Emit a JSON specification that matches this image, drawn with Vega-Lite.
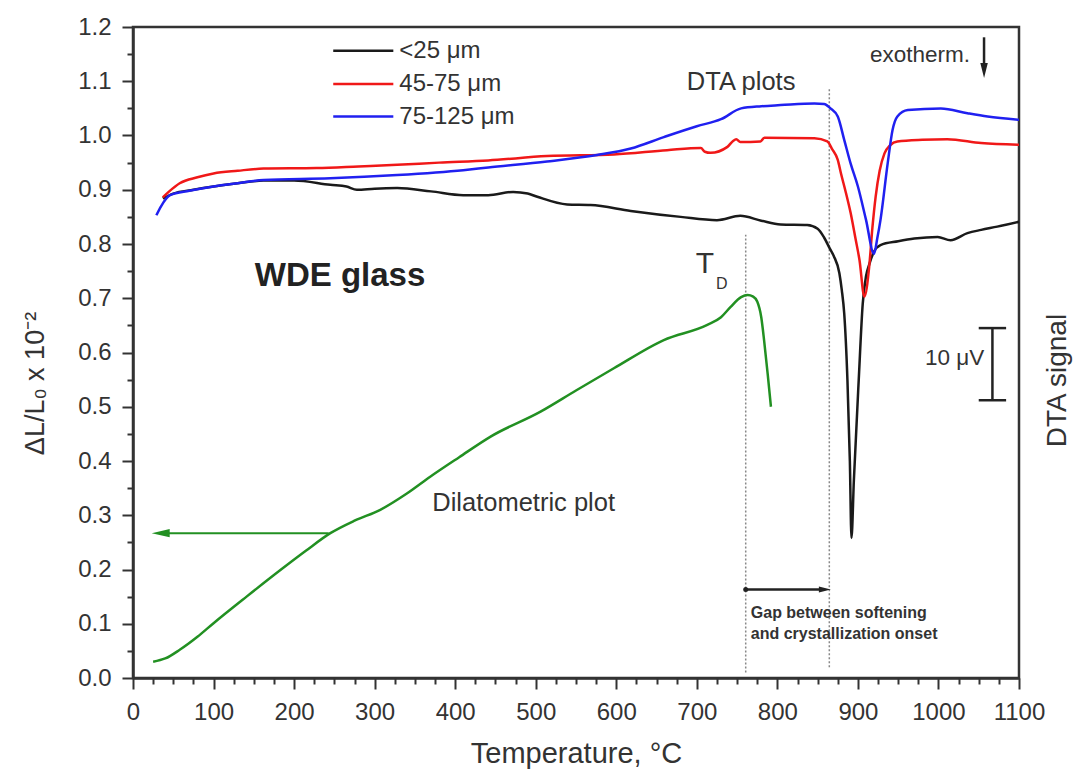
{
  "$schema": "https://vega.github.io/schema/vega-lite/v6.json",
  "width": 886,
  "height": 651,
  "autosize": {"type": "none"},
  "padding": {"left": 133, "top": 27, "right": 58, "bottom": 91},
  "background": "white",
  "config": {
    "font": "Liberation Sans",
    "view": {"stroke": "#333", "strokeWidth": 2.5},
    "axis": {"grid": false, "domainColor": "#333", "domainWidth": 2.5, "tickColor": "#333", "tickWidth": 2, "labelColor": "#333", "titleColor": "#333", "labelFont": "Liberation Sans", "titleFont": "Liberation Sans", "titleFontWeight": "normal", "labelOverlap": false, "labelFlush": false}
  },
  "resolve": {"axis": {"x": "independent", "y": "independent"}},
  "datasets": {
    "dta": [
      {"T": 37, "v": 0.884, "series": "<25 μm"},
      {"T": 50, "v": 0.893, "series": "<25 μm"},
      {"T": 75, "v": 0.900, "series": "<25 μm"},
      {"T": 100, "v": 0.906, "series": "<25 μm"},
      {"T": 130, "v": 0.912, "series": "<25 μm"},
      {"T": 162, "v": 0.917, "series": "<25 μm"},
      {"T": 200, "v": 0.917, "series": "<25 μm"},
      {"T": 245, "v": 0.909, "series": "<25 μm"},
      {"T": 265, "v": 0.906, "series": "<25 μm"},
      {"T": 278, "v": 0.900, "series": "<25 μm"},
      {"T": 300, "v": 0.902, "series": "<25 μm"},
      {"T": 328, "v": 0.903, "series": "<25 μm"},
      {"T": 370, "v": 0.897, "series": "<25 μm"},
      {"T": 410, "v": 0.890, "series": "<25 μm"},
      {"T": 441, "v": 0.890, "series": "<25 μm"},
      {"T": 472, "v": 0.896, "series": "<25 μm"},
      {"T": 490, "v": 0.893, "series": "<25 μm"},
      {"T": 502, "v": 0.887, "series": "<25 μm"},
      {"T": 539, "v": 0.873, "series": "<25 μm"},
      {"T": 568, "v": 0.872, "series": "<25 μm"},
      {"T": 618, "v": 0.861, "series": "<25 μm"},
      {"T": 680, "v": 0.850, "series": "<25 μm"},
      {"T": 725, "v": 0.844, "series": "<25 μm"},
      {"T": 754, "v": 0.852, "series": "<25 μm"},
      {"T": 780, "v": 0.843, "series": "<25 μm"},
      {"T": 804, "v": 0.836, "series": "<25 μm"},
      {"T": 837, "v": 0.835, "series": "<25 μm"},
      {"T": 850, "v": 0.828, "series": "<25 μm"},
      {"T": 858, "v": 0.812, "series": "<25 μm"},
      {"T": 865, "v": 0.792, "series": "<25 μm"},
      {"T": 870, "v": 0.778, "series": "<25 μm"},
      {"T": 877, "v": 0.746, "series": "<25 μm"},
      {"T": 880, "v": 0.715, "series": "<25 μm"},
      {"T": 883, "v": 0.672, "series": "<25 μm"},
      {"T": 887, "v": 0.549, "series": "<25 μm"},
      {"T": 890, "v": 0.400, "series": "<25 μm"},
      {"T": 892, "v": 0.258, "series": "<25 μm"},
      {"T": 895, "v": 0.365, "series": "<25 μm"},
      {"T": 901, "v": 0.549, "series": "<25 μm"},
      {"T": 906, "v": 0.690, "series": "<25 μm"},
      {"T": 910, "v": 0.740, "series": "<25 μm"},
      {"T": 914, "v": 0.762, "series": "<25 μm"},
      {"T": 920, "v": 0.786, "series": "<25 μm"},
      {"T": 928, "v": 0.798, "series": "<25 μm"},
      {"T": 950, "v": 0.805, "series": "<25 μm"},
      {"T": 970, "v": 0.810, "series": "<25 μm"},
      {"T": 999, "v": 0.813, "series": "<25 μm"},
      {"T": 1015, "v": 0.807, "series": "<25 μm"},
      {"T": 1036, "v": 0.820, "series": "<25 μm"},
      {"T": 1053, "v": 0.826, "series": "<25 μm"},
      {"T": 1073, "v": 0.832, "series": "<25 μm"},
      {"T": 1100, "v": 0.841, "series": "<25 μm"},

      {"T": 37, "v": 0.886, "series": "45-75 μm"},
      {"T": 45, "v": 0.897, "series": "45-75 μm"},
      {"T": 58, "v": 0.912, "series": "45-75 μm"},
      {"T": 80, "v": 0.923, "series": "45-75 μm"},
      {"T": 100, "v": 0.930, "series": "45-75 μm"},
      {"T": 130, "v": 0.935, "series": "45-75 μm"},
      {"T": 162, "v": 0.939, "series": "45-75 μm"},
      {"T": 228, "v": 0.940, "series": "45-75 μm"},
      {"T": 280, "v": 0.943, "series": "45-75 μm"},
      {"T": 328, "v": 0.946, "series": "45-75 μm"},
      {"T": 380, "v": 0.950, "series": "45-75 μm"},
      {"T": 441, "v": 0.954, "series": "45-75 μm"},
      {"T": 514, "v": 0.962, "series": "45-75 μm"},
      {"T": 597, "v": 0.965, "series": "45-75 μm"},
      {"T": 663, "v": 0.973, "series": "45-75 μm"},
      {"T": 705, "v": 0.977, "series": "45-75 μm"},
      {"T": 710, "v": 0.970, "series": "45-75 μm"},
      {"T": 717, "v": 0.968, "series": "45-75 μm"},
      {"T": 738, "v": 0.979, "series": "45-75 μm"},
      {"T": 745, "v": 0.990, "series": "45-75 μm"},
      {"T": 749, "v": 0.993, "series": "45-75 μm"},
      {"T": 754, "v": 0.988, "series": "45-75 μm"},
      {"T": 779, "v": 0.989, "series": "45-75 μm"},
      {"T": 784, "v": 0.996, "series": "45-75 μm"},
      {"T": 846, "v": 0.995, "series": "45-75 μm"},
      {"T": 862, "v": 0.989, "series": "45-75 μm"},
      {"T": 868, "v": 0.975, "series": "45-75 μm"},
      {"T": 875, "v": 0.955, "series": "45-75 μm"},
      {"T": 879, "v": 0.930, "series": "45-75 μm"},
      {"T": 885, "v": 0.895, "series": "45-75 μm"},
      {"T": 891, "v": 0.857, "series": "45-75 μm"},
      {"T": 897, "v": 0.810, "series": "45-75 μm"},
      {"T": 902, "v": 0.770, "series": "45-75 μm"},
      {"T": 908, "v": 0.703, "series": "45-75 μm"},
      {"T": 914, "v": 0.758, "series": "45-75 μm"},
      {"T": 918, "v": 0.830, "series": "45-75 μm"},
      {"T": 922, "v": 0.887, "series": "45-75 μm"},
      {"T": 927, "v": 0.935, "series": "45-75 μm"},
      {"T": 933, "v": 0.967, "series": "45-75 μm"},
      {"T": 940, "v": 0.982, "series": "45-75 μm"},
      {"T": 949, "v": 0.989, "series": "45-75 μm"},
      {"T": 980, "v": 0.992, "series": "45-75 μm"},
      {"T": 1011, "v": 0.993, "series": "45-75 μm"},
      {"T": 1053, "v": 0.986, "series": "45-75 μm"},
      {"T": 1100, "v": 0.983, "series": "45-75 μm"},

      {"T": 29, "v": 0.853, "series": "75-125 μm"},
      {"T": 35, "v": 0.870, "series": "75-125 μm"},
      {"T": 46, "v": 0.890, "series": "75-125 μm"},
      {"T": 70, "v": 0.898, "series": "75-125 μm"},
      {"T": 100, "v": 0.906, "series": "75-125 μm"},
      {"T": 130, "v": 0.912, "series": "75-125 μm"},
      {"T": 162, "v": 0.918, "series": "75-125 μm"},
      {"T": 245, "v": 0.921, "series": "75-125 μm"},
      {"T": 328, "v": 0.927, "series": "75-125 μm"},
      {"T": 410, "v": 0.936, "series": "75-125 μm"},
      {"T": 441, "v": 0.941, "series": "75-125 μm"},
      {"T": 514, "v": 0.952, "series": "75-125 μm"},
      {"T": 576, "v": 0.964, "series": "75-125 μm"},
      {"T": 618, "v": 0.976, "series": "75-125 μm"},
      {"T": 659, "v": 0.997, "series": "75-125 μm"},
      {"T": 700, "v": 1.017, "series": "75-125 μm"},
      {"T": 730, "v": 1.030, "series": "75-125 μm"},
      {"T": 755, "v": 1.050, "series": "75-125 μm"},
      {"T": 780, "v": 1.054, "series": "75-125 μm"},
      {"T": 804, "v": 1.056, "series": "75-125 μm"},
      {"T": 846, "v": 1.059, "series": "75-125 μm"},
      {"T": 858, "v": 1.058, "series": "75-125 μm"},
      {"T": 866, "v": 1.050, "series": "75-125 μm"},
      {"T": 875, "v": 1.035, "series": "75-125 μm"},
      {"T": 883, "v": 0.992, "series": "75-125 μm"},
      {"T": 891, "v": 0.948, "series": "75-125 μm"},
      {"T": 900, "v": 0.906, "series": "75-125 μm"},
      {"T": 910, "v": 0.845, "series": "75-125 μm"},
      {"T": 920, "v": 0.782, "series": "75-125 μm"},
      {"T": 924, "v": 0.810, "series": "75-125 μm"},
      {"T": 928, "v": 0.844, "series": "75-125 μm"},
      {"T": 937, "v": 0.949, "series": "75-125 μm"},
      {"T": 943, "v": 1.010, "series": "75-125 μm"},
      {"T": 949, "v": 1.035, "series": "75-125 μm"},
      {"T": 962, "v": 1.047, "series": "75-125 μm"},
      {"T": 1003, "v": 1.050, "series": "75-125 μm"},
      {"T": 1036, "v": 1.041, "series": "75-125 μm"},
      {"T": 1061, "v": 1.035, "series": "75-125 μm"},
      {"T": 1100, "v": 1.029, "series": "75-125 μm"}
    ],
    "dil": [
      {"T": 25, "v": 0.030}, {"T": 40, "v": 0.036}, {"T": 58, "v": 0.052}, {"T": 80, "v": 0.076},
      {"T": 100, "v": 0.101}, {"T": 141, "v": 0.150}, {"T": 183, "v": 0.199}, {"T": 215, "v": 0.235},
      {"T": 245, "v": 0.267}, {"T": 275, "v": 0.290}, {"T": 307, "v": 0.310}, {"T": 340, "v": 0.340},
      {"T": 369, "v": 0.371}, {"T": 405, "v": 0.407}, {"T": 444, "v": 0.445}, {"T": 506, "v": 0.491},
      {"T": 550, "v": 0.530}, {"T": 597, "v": 0.571}, {"T": 659, "v": 0.623}, {"T": 713, "v": 0.651},
      {"T": 730, "v": 0.665}, {"T": 742, "v": 0.684}, {"T": 755, "v": 0.702}, {"T": 763, "v": 0.706},
      {"T": 770, "v": 0.703}, {"T": 775, "v": 0.694}, {"T": 780, "v": 0.665}, {"T": 783.5, "v": 0.623},
      {"T": 788, "v": 0.560}, {"T": 792, "v": 0.500}
    ],
    "legendRows": [
      {"x": 248.6, "x2": 323.2, "y": 1.156, "series": "<25 μm"},
      {"x": 248.6, "x2": 323.2, "y": 1.095, "series": "45-75 μm"},
      {"x": 248.6, "x2": 323.2, "y": 1.035, "series": "75-125 μm"}
    ]
  },
  "layer": [
    {
      "data": {"values": [{"x": 760.7, "y": 0.01, "y2": 0.817}, {"x": 864.5, "y": 0.02, "y2": 1.089}]},
      "mark": {"type": "rule", "color": "#888", "strokeWidth": 1.5, "strokeDash": [2, 2]},
      "encoding": {
        "x": {"field": "x", "type": "quantitative", "scale": {"domain": [0, 1100], "nice": false}, "axis": null},
        "y": {"field": "y", "type": "quantitative", "scale": {"domain": [0, 1.2], "nice": false, "zero": false}, "axis": null},
        "y2": {"field": "y2"}
      }
    },
    {
      "data": {"name": "dta"},
      "mark": {"type": "line", "strokeWidth": 2.5, "interpolate": "monotone"},
      "encoding": {
        "x": {"field": "T", "type": "quantitative", "scale": {"domain": [0, 1100], "nice": false},
          "axis": {"orient": "bottom", "values": [0, 100, 200, 300, 400, 500, 600, 700, 800, 900, 1000, 1100], "format": "d", "tickSize": 11, "labelFontSize": 24, "labelPadding": 11, "title": "Temperature, °C", "titleFontSize": 29, "titleX": 443, "titleY": 84, "titleBaseline": "alphabetic", "titleAnchor": "middle"}},
        "y": {"field": "v", "type": "quantitative", "scale": {"domain": [0, 1.2], "nice": false, "zero": false},
          "axis": {"orient": "left", "values": [0, 0.1, 0.2, 0.3, 0.4, 0.5, 0.6, 0.7, 0.8, 0.9, 1.0, 1.1, 1.2], "format": ".1f", "tickSize": 11, "labelFontSize": 24, "labelPadding": 11, "title": "ΔL/L₀ x 10⁻²", "titleFontSize": 27, "titleAngle": 270, "titleX": -90, "titleY": 356, "titleBaseline": "alphabetic", "titleAnchor": "middle"}},
        "color": {"field": "series", "type": "nominal", "scale": {"domain": ["<25 μm", "45-75 μm", "75-125 μm"], "range": ["#1a1a1a", "#f01818", "#2020f0"]}, "legend": null}
      }
    },
    {
      "data": {"name": "dil"},
      "mark": {"type": "line", "strokeWidth": 2.5, "interpolate": "monotone", "color": "#229022"},
      "encoding": {
        "x": {"field": "T", "type": "quantitative", "scale": {"domain": [0, 1100], "nice": false},
          "axis": {"orient": "bottom", "values": [25, 50, 75, 125, 150, 175, 225, 250, 275, 325, 350, 375, 425, 450, 475, 525, 550, 575, 625, 650, 675, 725, 750, 775, 825, 850, 875, 925, 950, 975, 1025, 1050, 1075], "tickSize": 6, "labels": false, "domain": false, "title": null}},
        "y": {"field": "v", "type": "quantitative", "scale": {"domain": [0, 1.2], "nice": false, "zero": false},
          "axis": {"orient": "left", "values": [0.05, 0.15, 0.25, 0.35, 0.45, 0.55, 0.65, 0.75, 0.85, 0.95, 1.05, 1.15], "tickSize": 6, "labels": false, "domain": false, "title": null}}
      }
    },
    {
      "data": {"name": "legendRows"},
      "mark": {"type": "rule", "strokeWidth": 2.5},
      "encoding": {
        "x": {"field": "x", "type": "quantitative", "scale": {"domain": [0, 1100], "nice": false}, "axis": null},
        "x2": {"field": "x2"},
        "y": {"field": "y", "type": "quantitative", "scale": {"domain": [0, 1.2], "nice": false, "zero": false}, "axis": null},
        "color": {"field": "series", "type": "nominal", "scale": {"domain": ["<25 μm", "45-75 μm", "75-125 μm"], "range": ["#1a1a1a", "#f01818", "#2020f0"]}, "legend": null}
      }
    },
    {
      "data": {"name": "legendRows"},
      "mark": {"type": "text", "align": "left", "baseline": "middle", "fontSize": 24, "color": "#333", "dx": 6},
      "encoding": {
        "x": {"field": "x2", "type": "quantitative", "scale": {"domain": [0, 1100], "nice": false}, "axis": null},
        "y": {"field": "y", "type": "quantitative", "scale": {"domain": [0, 1.2], "nice": false, "zero": false}, "axis": null},
        "text": {"field": "series"}
      }
    },
    {
      "data": {"values": [
        {"x": 1067, "x2": 1067, "y": 0.512, "y2": 0.645},
        {"x": 1050, "x2": 1084, "y": 0.645, "y2": 0.645},
        {"x": 1050, "x2": 1084, "y": 0.512, "y2": 0.512},
        {"x": 760.7, "x2": 858, "y": 0.163, "y2": 0.163},
        {"x": 1056.6, "x2": 1056.6, "y": 1.181, "y2": 1.125}
      ]},
      "mark": {"type": "rule", "color": "#222", "strokeWidth": 2.5},
      "encoding": {
        "x": {"field": "x", "type": "quantitative", "scale": {"domain": [0, 1100], "nice": false}, "axis": null},
        "x2": {"field": "x2"},
        "y": {"field": "y", "type": "quantitative", "scale": {"domain": [0, 1.2], "nice": false, "zero": false},
          "axis": {"orient": "right", "labels": false, "ticks": false, "domain": false, "title": "DTA signal", "titleFontSize": 28, "titleAngle": 270, "titleX": 46, "titleY": 353, "titleBaseline": "alphabetic", "titleAnchor": "middle"}},
        "y2": {"field": "y2"}
      }
    },
    {
      "data": {"values": [{"x": 243, "x2": 40, "y": 0.267}]},
      "mark": {"type": "rule", "color": "#229022", "strokeWidth": 2},
      "encoding": {
        "x": {"field": "x", "type": "quantitative", "scale": {"domain": [0, 1100], "nice": false}, "axis": null},
        "x2": {"field": "x2"},
        "y": {"field": "y", "type": "quantitative", "scale": {"domain": [0, 1.2], "nice": false, "zero": false}, "axis": null}
      }
    },
    {
      "data": {"values": [{"x": 34.4, "y": 0.267}]},
      "mark": {"type": "point", "shape": "M -1 0 L 1 -0.45 L 1 0.45 Z", "filled": true, "size": 324, "color": "#229022", "opacity": 1, "strokeWidth": 0},
      "encoding": {
        "x": {"field": "x", "type": "quantitative", "scale": {"domain": [0, 1100], "nice": false}, "axis": null},
        "y": {"field": "y", "type": "quantitative", "scale": {"domain": [0, 1.2], "nice": false, "zero": false}, "axis": null}
      }
    },
    {
      "data": {"values": [{"x": 859, "y": 0.163}]},
      "mark": {"type": "point", "shape": "M 1 0 L -1 -0.5 L -1 0.5 Z", "filled": true, "size": 144, "color": "#222", "opacity": 1, "strokeWidth": 0},
      "encoding": {
        "x": {"field": "x", "type": "quantitative", "scale": {"domain": [0, 1100], "nice": false}, "axis": null},
        "y": {"field": "y", "type": "quantitative", "scale": {"domain": [0, 1.2], "nice": false, "zero": false}, "axis": null}
      }
    },
    {
      "data": {"values": [{"x": 760.7, "y": 0.163}]},
      "mark": {"type": "point", "shape": "circle", "filled": true, "size": 25, "color": "#222", "opacity": 1},
      "encoding": {
        "x": {"field": "x", "type": "quantitative", "scale": {"domain": [0, 1100], "nice": false}, "axis": null},
        "y": {"field": "y", "type": "quantitative", "scale": {"domain": [0, 1.2], "nice": false, "zero": false}, "axis": null}
      }
    },
    {
      "data": {"values": [{"x": 1056.6, "y": 1.12}]},
      "mark": {"type": "point", "shape": "M 0 1 L -0.5 -1 L 0.5 -1 Z", "filled": true, "size": 225, "color": "#222", "opacity": 1, "strokeWidth": 0},
      "encoding": {
        "x": {"field": "x", "type": "quantitative", "scale": {"domain": [0, 1100], "nice": false}, "axis": null},
        "y": {"field": "y", "type": "quantitative", "scale": {"domain": [0, 1.2], "nice": false, "zero": false}, "axis": null}
      }
    },
    {
      "data": {"values": [{"x": 257, "y": 0.741, "label": "WDE glass"}]},
      "mark": {"type": "text", "align": "center", "baseline": "middle", "fontSize": 33, "fontWeight": "bold", "color": "#222"},
      "encoding": {
        "x": {"field": "x", "type": "quantitative", "scale": {"domain": [0, 1100], "nice": false}, "axis": null},
        "y": {"field": "y", "type": "quantitative", "scale": {"domain": [0, 1.2], "nice": false, "zero": false}, "axis": null},
        "text": {"field": "label"}
      }
    },
    {
      "data": {"values": [
        {"x": 755, "y": 1.099, "label": "DTA plots"},
        {"x": 485, "y": 0.323, "label": "Dilatometric plot"}
      ]},
      "mark": {"type": "text", "align": "center", "baseline": "middle", "fontSize": 25.5, "color": "#333"},
      "encoding": {
        "x": {"field": "x", "type": "quantitative", "scale": {"domain": [0, 1100], "nice": false}, "axis": null},
        "y": {"field": "y", "type": "quantitative", "scale": {"domain": [0, 1.2], "nice": false, "zero": false}, "axis": null},
        "text": {"field": "label"}
      }
    },
    {
      "data": {"values": [
        {"x": 977, "y": 1.148, "label": "exotherm."},
        {"x": 1020, "y": 0.590, "label": "10 μV"}
      ]},
      "mark": {"type": "text", "align": "center", "baseline": "middle", "fontSize": 22.5, "color": "#333"},
      "encoding": {
        "x": {"field": "x", "type": "quantitative", "scale": {"domain": [0, 1100], "nice": false}, "axis": null},
        "y": {"field": "y", "type": "quantitative", "scale": {"domain": [0, 1.2], "nice": false, "zero": false}, "axis": null},
        "text": {"field": "label"}
      }
    },
    {
      "data": {"values": [{"x": 710, "y": 0.764, "label": "T"}]},
      "mark": {"type": "text", "align": "center", "baseline": "middle", "fontSize": 30, "color": "#333"},
      "encoding": {
        "x": {"field": "x", "type": "quantitative", "scale": {"domain": [0, 1100], "nice": false}, "axis": null},
        "y": {"field": "y", "type": "quantitative", "scale": {"domain": [0, 1.2], "nice": false, "zero": false}, "axis": null},
        "text": {"field": "label"}
      }
    },
    {
      "data": {"values": [{"x": 731, "y": 0.726, "label": "D"}]},
      "mark": {"type": "text", "align": "center", "baseline": "middle", "fontSize": 16, "color": "#333"},
      "encoding": {
        "x": {"field": "x", "type": "quantitative", "scale": {"domain": [0, 1100], "nice": false}, "axis": null},
        "y": {"field": "y", "type": "quantitative", "scale": {"domain": [0, 1.2], "nice": false, "zero": false}, "axis": null},
        "text": {"field": "label"}
      }
    },
    {
      "data": {"values": [
        {"x": 767, "y": 0.120, "label": "Gap between softening"},
        {"x": 767, "y": 0.081, "label": "and crystallization onset"}
      ]},
      "mark": {"type": "text", "align": "left", "baseline": "middle", "fontSize": 16, "fontWeight": "bold", "color": "#333"},
      "encoding": {
        "x": {"field": "x", "type": "quantitative", "scale": {"domain": [0, 1100], "nice": false}, "axis": null},
        "y": {"field": "y", "type": "quantitative", "scale": {"domain": [0, 1.2], "nice": false, "zero": false}, "axis": null},
        "text": {"field": "label"}
      }
    }
  ]
}
